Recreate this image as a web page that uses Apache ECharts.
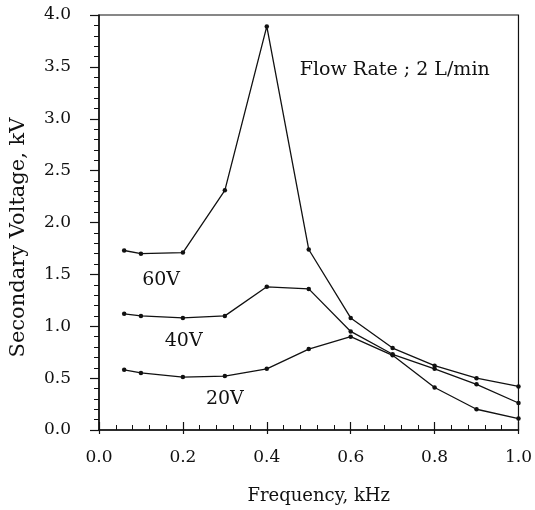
<!DOCTYPE html>
<html>
<head>
<meta charset="utf-8">
<script src="https://cdn.jsdelivr.net/npm/echarts@6/dist/echarts.min.js"></script>
<style>html,body{margin:0;padding:0;background:#fff}#c{width:535px;height:510px}</style>
</head>
<body>
<div id="c"></div>
<script>
var frequency = [0.06, 0.1, 0.2, 0.3, 0.4, 0.5, 0.6, 0.7, 0.8, 0.9, 1.0];
var v60 = [1.73, 1.70, 1.71, 2.31, 3.89, 1.74, 1.08, 0.79, 0.62, 0.50, 0.42];
var v40 = [1.12, 1.10, 1.08, 1.10, 1.38, 1.36, 0.95, 0.73, 0.59, 0.44, 0.26];
var v20 = [0.58, 0.55, 0.51, 0.52, 0.59, 0.78, 0.90, 0.72, 0.41, 0.20, 0.11];
var seriesNames = ['60V', '40V', '20V'];
var labelPos = [[0.148, 1.445], [0.202, 0.855], [0.30, 0.30]];
var noteText = 'Flow Rate ; 2 L/min';
var notePos = [0.705, 3.47];
var xTitle = 'Frequency, kHz';
var yTitle = 'Secondary Voltage, kV';

var FONT = 'DejaVu Serif';
var chart = echarts.init(document.getElementById('c'), null, {renderer: 'canvas'});
function pairs(ys) { return frequency.map(function (x, i) { return [x, ys[i]]; }); }
function mkSeries(name, ys) {
  return {
    name: name, type: 'line', data: pairs(ys),
    symbol: 'circle', symbolSize: 4.5,
    itemStyle: {color: '#111'},
    lineStyle: {color: '#111', width: 1.3},
    animation: false
  };
}
var option = {
  animation: false,
  grid: {left: 97, right: 11, top: 15, bottom: 78, show: true, borderColor: '#111', borderWidth: 1.2},
  xAxis: [{
    type: 'value', min: 0, max: 1, interval: 0.2, position: 'bottom',
    name: xTitle, nameLocation: 'middle', nameGap: 57,
    nameTextStyle: {fontFamily: FONT, fontSize: 18, color: '#111', padding: [0, 0, 0, 20]},
    axisLine: {show: true, onZero: false, lineStyle: {color: '#111', width: 1.5}},
    axisTick: {show: true, inside: true, length: 8, lineStyle: {color: '#111', width: 1.2}},
    minorTick: {show: true, splitNumber: 5, length: 5, lineStyle: {color: '#111', width: 1}},
    axisLabel: {fontFamily: FONT, fontSize: 17, color: '#111', margin: 19,
      formatter: function (v) { return v.toFixed(1); }},
    splitLine: {show: false}
  }, {
    type: 'value', min: 0, max: 1, interval: 0.2, position: 'bottom',
    axisLine: {show: false},
    axisTick: {show: true, inside: false, length: 4, lineStyle: {color: '#111', width: 1.2}},
    axisLabel: {show: false}, splitLine: {show: false}
  }],
  yAxis: {
    type: 'value', min: 0, max: 4, interval: 0.5,
    name: yTitle, nameLocation: 'middle', nameGap: 70,
    nameTextStyle: {fontFamily: FONT, fontSize: 21, color: '#111', padding: [0, 30, 0, 0]},
    axisLine: {show: true, onZero: false, lineStyle: {color: '#111', width: 1.5}},
    axisTick: {show: true, inside: false, length: 9, lineStyle: {color: '#111', width: 1.2}},
    minorTick: {show: true, splitNumber: 5, length: 5, lineStyle: {color: '#111', width: 1}},
    axisLabel: {fontFamily: FONT, fontSize: 17, color: '#111', margin: 28,
      formatter: function (v) { return v.toFixed(1); }},
    splitLine: {show: false}
  },
  series: [mkSeries(seriesNames[0], v60), mkSeries(seriesNames[1], v40), mkSeries(seriesNames[2], v20)]
};
chart.setOption(option);
var g = [];
seriesNames.forEach(function (n, i) {
  var p = chart.convertToPixel({gridIndex: 0}, labelPos[i]);
  g.push({type: 'text', x: p[0], y: p[1], style: {text: n, fill: '#111', font: '19px "' + FONT + '"', align: 'center', verticalAlign: 'middle'}});
});
var np = chart.convertToPixel({gridIndex: 0}, notePos);
g.push({type: 'text', x: np[0], y: np[1], style: {text: noteText, fill: '#111', font: '19px "' + FONT + '"', align: 'center', verticalAlign: 'middle'}});
chart.setOption({graphic: g});
</script>
</body>
</html>
